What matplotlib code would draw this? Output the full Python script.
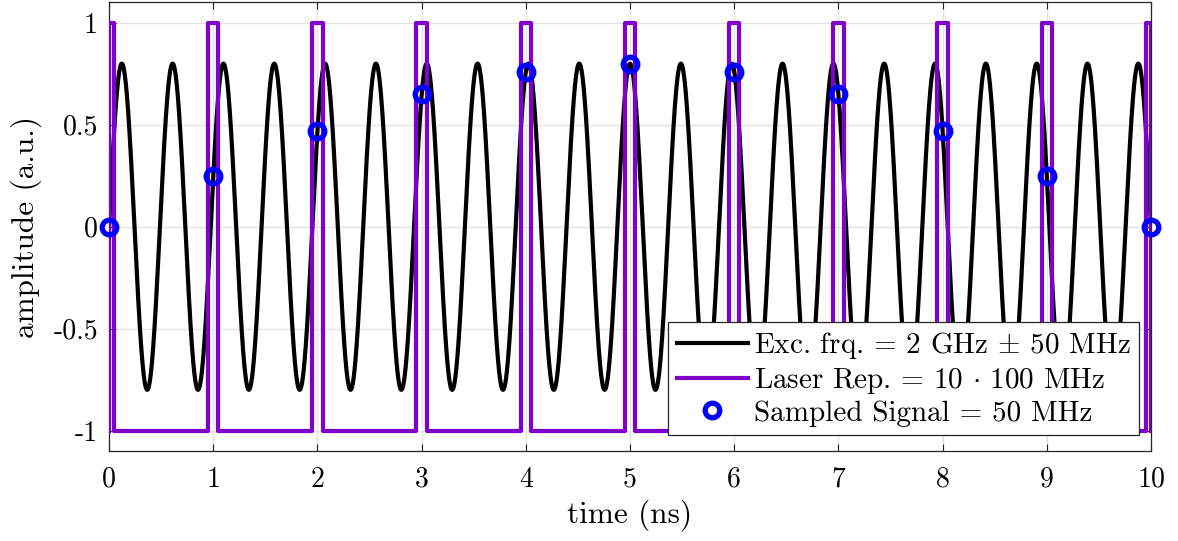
import numpy as np
import matplotlib.pyplot as plt

plt.rcParams['font.family'] = 'serif'
plt.rcParams['font.serif'] = ['cmr10']
plt.rcParams['mathtext.fontset'] = 'cm'
plt.rcParams['axes.formatter.use_mathtext'] = True

# excitation signal: 2 GHz + 50 MHz, amplitude 0.8
exc_freq_ghz = 2.05
exc_amp = 0.8

# laser pulses: one every ns, 0.1 ns wide, between -1 and 1
pulse_centers = [0, 1, 2, 3, 4, 5, 6, 7, 8, 9, 10]
pulse_width = 0.1
pulse_high = 1
pulse_low = -1

# sampled points
sample_t = [0, 1, 2, 3, 4, 5, 6, 7, 8, 9, 10]
sample_amp = [0, 0.25, 0.47, 0.65, 0.76, 0.8, 0.76, 0.65, 0.47, 0.25, 0]

t = np.linspace(0, 10, 6000)
exc = exc_amp * np.sin(2 * np.pi * exc_freq_ghz * t)

# square wave from the pulse edges
px, py = [], []
for c in pulse_centers:
    a = max(c - pulse_width / 2, 0)
    b = min(c + pulse_width / 2, 10)
    px += [a, a, b, b]
    py += [pulse_low, pulse_high, pulse_high, pulse_low]

fig = plt.figure(figsize=(11.78, 5.41), dpi=100)
ax = fig.add_axes([0.0926, 0.1664, 0.8845, 0.829])

ax.plot(t, exc, color='black', lw=3, label=r'Exc. frq. = 2 GHz $\pm$ 50 MHz', zorder=3)
ax.plot(px, py, color='#8000CC', lw=3, label=r'Laser Rep. = 10 $\cdot$ 100 MHz', zorder=4)
ax.plot(sample_t, sample_amp, 'o', ms=10.5, mfc='none', mec='#0000FF', mew=3.8,
        label='Sampled Signal = 50 MHz', zorder=5, clip_on=False)

ax.set_xlim(0, 10)
ax.set_ylim(-1.1, 1.1)
ax.set_xticks(range(11))
ax.set_xticklabels([str(i) for i in range(11)])
ax.set_yticks([-1, -0.5, 0, 0.5, 1])
ax.set_yticklabels(['-1', '-0.5', '0', '0.5', '1'])
ax.tick_params(direction='in', length=5, width=0.8, top=True, right=True,
               labelsize=20, color='#262626')
ax.tick_params(axis='x', pad=11)
ax.tick_params(axis='y', pad=8)
ax.grid(True, color='#E3E3E3', lw=1)
ax.set_axisbelow(True)
for s in ax.spines.values():
    s.set_linewidth(0.9)
    s.set_color('#262626')

ax.set_xlabel('time (ns)', fontsize=22.5, labelpad=5)
ax.set_ylabel('amplitude (a.u.)', fontsize=22.5, labelpad=8)

leg = ax.legend(loc='lower right', bbox_to_anchor=(0.9885, 0.036), fontsize=21,
                frameon=True, fancybox=False, framealpha=1, edgecolor='#262626',
                handlelength=2.45, handletextpad=0.2, borderpad=0.28,
                labelspacing=0.15, borderaxespad=0)
leg.get_frame().set_linewidth(0.9)
leg.set_zorder(10)

fig.savefig('out.png', dpi=100)
